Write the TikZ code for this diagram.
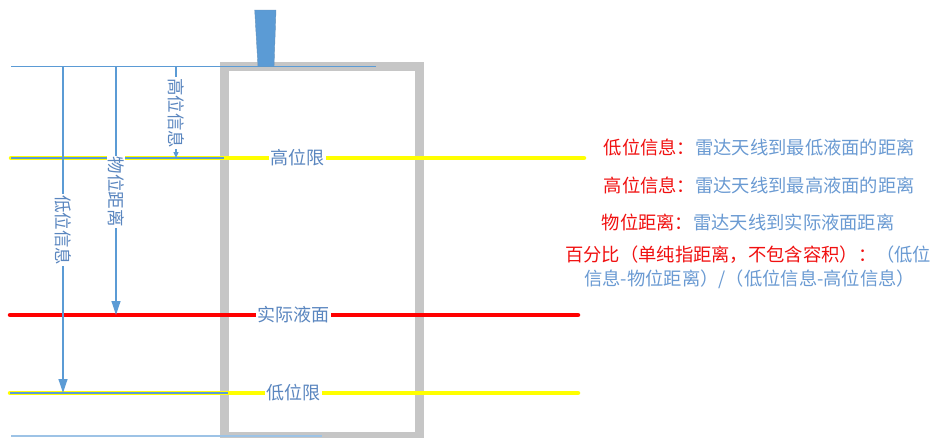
\documentclass[tikz,border=0pt]{standalone}
\usepackage{fontspec}
\setmainfont{Noto Sans CJK SC}
\usetikzlibrary{arrows.meta}
\definecolor{lblue}{HTML}{5B9BD5}
\definecolor{tblue}{HTML}{5A86BF}
\definecolor{rtblue}{HTML}{6A9AD2}
\definecolor{framegray}{HTML}{C6C6C6}
\definecolor{ylw}{HTML}{FFFF00}
\definecolor{rd}{HTML}{FF0000}
\definecolor{rtred}{HTML}{F01010}
\definecolor{bline}{HTML}{9DC3E6}
\tikzset{
  levelline/.style={line width=4.5pt, line cap=round},
  thinblue/.style={lblue, line width=1.2pt},
  lvllabel/.style={fill=white, text=tblue, inner xsep=1.5pt, inner ysep=0pt, font=\fontsize{18}{20}\selectfont},
  vlabel/.style={fill=white, text=tblue, rotate=-90, inner xsep=1pt, inner ysep=0.5pt, font=\fontsize{17.5}{20}\selectfont},
  bigarrow/.style={thinblue, -{Triangle[length=14pt,width=9pt]}},
  smallarrow/.style={thinblue, -{Triangle[length=6pt,width=5pt]}},
  desc/.style={anchor=west, inner sep=0pt, text=rtblue, font=\fontsize{18.3}{20}\selectfont},
}
\begin{document}
\begin{tikzpicture}[x=1pt,y=-1pt]
\useasboundingbox (0,0) rectangle (935,437);
% tank frame
\draw[framegray, line width=9pt] (224.5,66.5) rectangle (419.5,436.5);
% reference coordinates
\coordinate (topL) at (11,66.5);
\coordinate (topR) at (376,66.5);
\coordinate (hiL) at (11,158);
\coordinate (hiM) at (224,158);
\coordinate (hiR) at (584,158);
\coordinate (acL) at (10,315);
\coordinate (acR) at (578,315);
\coordinate (loL) at (10,393);
\coordinate (loM) at (228,393);
\coordinate (loR) at (578,393);
\coordinate (botL) at (11,436);
\coordinate (botR) at (322,436);
% lines
\draw[thinblue] (topL) -- (topR);
\draw[levelline, ylw] (hiL) -- (hiR);
\draw[thinblue] (hiL) -- (hiM);
\draw[levelline, rd] (acL) -- (acR);
\draw[levelline, ylw] (loL) -- (loR);
\draw[thinblue] (loL) -- (loM);
\draw[bline, line width=1.5pt] (botL) -- (botR);
% arrows
\coordinate (a1s) at (63,66.5);
\coordinate (a1e) at (63,393);
\coordinate (a2s) at (116,66.5);
\coordinate (a2e) at (116,315);
\coordinate (a3s) at (176,66.5);
\coordinate (a3e) at (176,158);
\draw[bigarrow] (a1s) -- (a1e);
\draw[bigarrow] (a2s) -- (a2e);
\draw[smallarrow] (a3s) -- (a3e);
\node[vlabel] (vl1) at (63,230) {低位信息};
\node[vlabel] (vl2) at (116,191.5) {物位距离};
\node[vlabel] (vl3) at (176,113) {高位信息};
% level labels
\node[lvllabel] (lhi) at (297.5,158) {高位限};
\node[lvllabel] (lac) at (293,315) {实际液面};
\node[lvllabel] (llo) at (293,393) {低位限};
% antenna
\fill[lblue, draw=lblue!70!gray, line width=0.4pt] (254.7,10) -- (276,10) -- (274,66.5) -- (258,66.5) -- cycle;
% descriptions
\node[desc] (d1) at (603.5,147) {\textcolor{rtred}{低位信息：}雷达天线到最低液面的距离};
\node[desc] (d2) at (603.5,185) {\textcolor{rtred}{高位信息：}雷达天线到最高液面的距离};
\node[desc] (d3) at (601.5,222) {\textcolor{rtred}{物位距离：}雷达天线到实际液面距离};
\node[desc] (d4) at (565,255) {\textcolor{rtred}{百分比（单纯指距离，不包含容积）：}（低位};
\node[desc] (d5) at (584,279) {信息-物位距离）/（低位信息-高位信息）};
\end{tikzpicture}
\end{document}
